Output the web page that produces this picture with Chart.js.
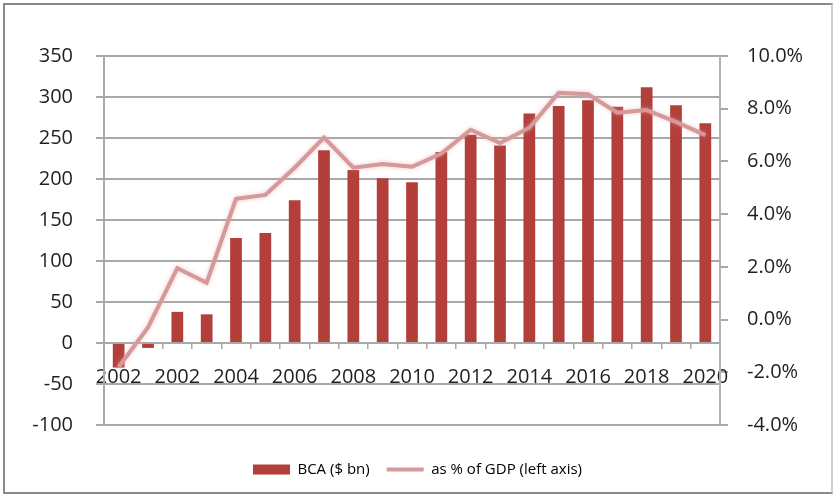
<!DOCTYPE html>
<html>
<head>
<meta charset="utf-8">
<script src="https://cdn.jsdelivr.net/npm/chart.js@4.4.1/dist/chart.umd.min.js"></script>
<style>
  html, body { margin: 0; padding: 0; background: #fff; }
  #wrap { position: relative; width: 835px; height: 496px; }
  #bca { position: absolute; left: 0; top: 0; }
  /* outer frame around the whole chart */
  #frame {
    position: absolute; left: 3px; top: 3px; width: 826px; height: 487px;
    border: 2px solid #8a8a8a; border-right-color: #d0d0d0;
    pointer-events: none;
  }
</style>
</head>
<body>
<div id="wrap">
  <canvas id="bca" width="835" height="496"></canvas>
  <div id="frame"></div>
</div>
<script>
// Yearly categories and the label printed under every other bar
const years = ['2000', '2001', '2002', '2003', '2004', '2005', '2006', '2007', '2008', '2009', '2010',
               '2011', '2012', '2013', '2014', '2015', '2016', '2017', '2018', '2019', '2020'];
const yearLabels = ['2002', '', '2002', '', '2004', '', '2006', '', '2008', '', '2010',
                    '', '2012', '', '2014', '', '2016', '', '2018', '', '2020'];

// Balance on current account, $ bn
const bcaValues = [-30, -6, 38, 35, 128, 134, 174, 235, 211, 201, 196,
                   233, 254, 241, 280, 289, 296, 288, 312, 290, 268];
// Same balance as % of GDP
const gdpShare = [-1.8, -0.3, 1.95, 1.4, 4.58, 4.73, 5.76, 6.9, 5.76, 5.9, 5.8,
                  6.3, 7.2, 6.7, 7.28, 8.6, 8.55, 7.85, 7.95, 7.5, 7.0];

const seriesNames = ['BCA ($ bn)', 'as % of GDP (left axis)'];

const barColor = '#b33f3b';
const lineColor = '#d49a9b';
const gridColor = '#a9a9a9';
const textColor = '#1f1f1f';
const tickFont = { family: '"Open Sans", sans-serif', size: 20 };

// soft pink glow under the % of GDP line
const lineGlow = {
  id: 'lineGlow',
  beforeDatasetDraw(chart, args) {
    if (args.index !== 1) return;
    const ctx = chart.ctx;
    ctx.save();
    ctx.shadowColor = 'rgba(235, 160, 160, 0.6)';
    ctx.shadowBlur = 4;
  },
  afterDatasetDraw(chart, args) {
    if (args.index === 1) chart.ctx.restore();
  }
};

// keep the legend low, near the bottom of the frame
const legendDrop = {
  id: 'legendDrop',
  afterLayout(chart) {
    const shift = 20;
    chart.legend.top += shift;
    chart.legend.bottom += shift;
  }
};

new Chart(document.getElementById('bca').getContext('2d'), {
  data: {
    labels: years,
    datasets: [
      {
        type: 'bar',
        label: seriesNames[0],
        data: bcaValues,
        backgroundColor: barColor,
        barPercentage: 0.4,
        categoryPercentage: 1.0,
        yAxisID: 'y',
        order: 1
      },
      {
        type: 'line',
        label: seriesNames[1],
        data: gdpShare,
        borderColor: lineColor,
        borderWidth: 4,
        pointRadius: 0,
        tension: 0,
        yAxisID: 'y1',
        order: 0
      }
    ]
  },
  options: {
    responsive: false,
    animation: false,
    layout: { padding: { top: 56, left: 0, right: 0, bottom: 29 } },
    plugins: {
      tooltip: { enabled: false },
      legend: {
        position: 'bottom',
        labels: {
          usePointStyle: true,
          pointStyleWidth: 37,
          boxHeight: 10,
          padding: 17,
          color: textColor,
          font: { family: '"Open Sans", sans-serif', size: 15 },
          generateLabels: () => [
            { text: seriesNames[0], fillStyle: barColor, strokeStyle: barColor, lineWidth: 0, pointStyle: 'rect', datasetIndex: 0 },
            { text: seriesNames[1], fillStyle: lineColor, strokeStyle: lineColor, lineWidth: 4, pointStyle: 'line', datasetIndex: 1 }
          ]
        }
      }
    },
    scales: {
      x: {
        type: 'category',
        position: { y: 0 },
        offset: true,
        grid: { offset: true, drawOnChartArea: false, tickLength: 5, color: gridColor, lineWidth: 1.5 },
        border: { color: gridColor, width: 2 },
        ticks: {
          autoSkip: false,
          maxRotation: 0,
          padding: 17,
          color: textColor,
          font: tickFont,
          callback: (value, index) => yearLabels[index]
        }
      },
      y: {
        position: 'left',
        min: -100,
        max: 350,
        ticks: { stepSize: 50, padding: 23, color: textColor, font: tickFont },
        grid: { color: gridColor, lineWidth: 2, tickLength: 8 },
        border: { color: gridColor, width: 2 },
        afterFit: scale => { scale.width = 104; }
      },
      y1: {
        position: 'right',
        min: -4,
        max: 10,
        ticks: {
          stepSize: 2,
          padding: 19,
          color: textColor,
          font: tickFont,
          callback: value => value.toFixed(1) + '%'
        },
        grid: { drawOnChartArea: false, color: gridColor, lineWidth: 2, tickLength: 8 },
        border: { color: '#a9b3ba', width: 2 },
        afterFit: scale => { scale.width = 115; }
      }
    }
  },
  plugins: [lineGlow, legendDrop]
});
</script>
</body>
</html>
